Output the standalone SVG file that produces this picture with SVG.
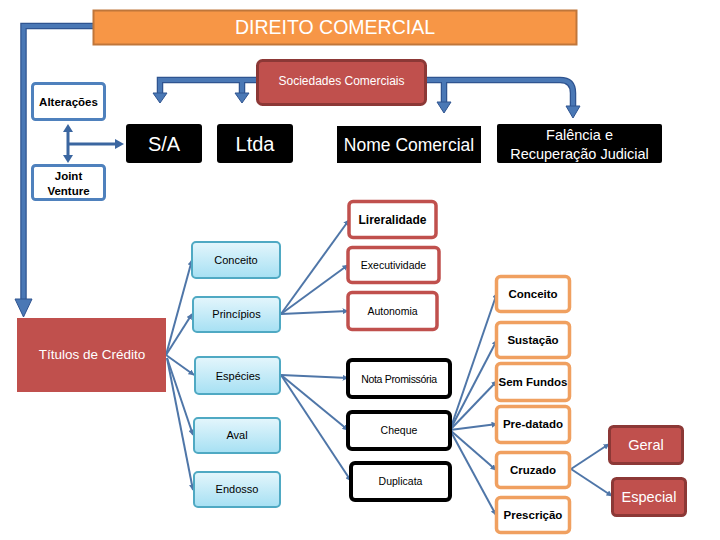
<svg xmlns="http://www.w3.org/2000/svg" width="720" height="540" viewBox="0 0 720 540">
<defs>
<linearGradient id="lb" x1="0" y1="0" x2="0" y2="1">
<stop offset="0" stop-color="#E4F6FC"/>
<stop offset="1" stop-color="#A6E0F3"/>
</linearGradient>
<marker id="ah" viewBox="0 0 10 10" refX="9" refY="5" markerWidth="6" markerHeight="6" markerUnits="userSpaceOnUse" orient="auto">
<path d="M0,0 L10,5 L0,10 z" fill="#4F76A8"/>
</marker>
</defs>
<style>
text{font-family:"Liberation Sans",Arial,sans-serif;text-anchor:middle}
.w{fill:#ffffff}
.k{fill:#000000}
.b{font-weight:bold}
.bl rect{fill:url(#lb);stroke:#4FA9C3;stroke-width:2}
.ro rect{fill:#ffffff;stroke:#C0504D;stroke-width:3.5}
.ko rect{fill:#ffffff;stroke:#000000;stroke-width:4}
.oo rect{fill:#ffffff;stroke:#F0A060;stroke-width:3.5}
.rf rect{fill:#C0504D;stroke:#8C3836;stroke-width:3}
.blk rect{fill:#000000}
.bx rect{fill:#ffffff;stroke:#4F81BD;stroke-width:3}
.thin{fill:none;stroke:#4F76A8;stroke-width:2;marker-end:url(#ah)}
.thickO{fill:none;stroke:#2F5490;stroke-width:6.5}
.thickI{fill:none;stroke:#4A78B5;stroke-width:4}
.head{fill:#4A78B5;stroke:#2F5490;stroke-width:1}
</style>

<g id="connectors">
<!-- big left arrow -->
<path class="thickO" d="M93,26 H23.5 V300"/>
<path class="thickI" d="M93,26 H23.5 V300"/>
<polygon class="head" points="15,299 32,299 23.5,317"/>
<!-- Sociedades arrows -->
<path class="thickO" d="M257,80 H160 V94 M242,80 V94"/>
<path class="thickI" d="M257,80 H160 V94 M242,80 V94"/>
<polygon class="head" points="153,93 167,93 160,103"/>
<polygon class="head" points="235,93 249,93 242,103"/>
<path class="thickO" d="M426,80 H560 Q573,80 573,93 V107 M444,80 V103"/>
<path class="thickI" d="M426,80 H560 Q573,80 573,93 V107 M444,80 V103"/>
<polygon class="head" points="437,102 451,102 444,113"/>
<polygon class="head" points="566,106 580,106 573,118"/>
<!-- Alterações / Joint Venture -->
<path d="M68,131 V156 M68,144 H116" fill="none" stroke="#3B66A0" stroke-width="3"/>
<polygon points="63,132 73,132 68,124" fill="#3B66A0"/>
<polygon points="63,155 73,155 68,163" fill="#3B66A0"/>
<polygon points="115,139 115,149 124,144" fill="#3B66A0"/>
<!-- Títulos -->
<line class="thin" x1="166" y1="355" x2="192" y2="260"/>
<line class="thin" x1="166" y1="355" x2="192" y2="314"/>
<line class="thin" x1="166" y1="355" x2="194" y2="375"/>
<line class="thin" x1="167" y1="358" x2="193" y2="435"/>
<line class="thin" x1="167" y1="358" x2="193" y2="490"/>
<!-- Princípios -->
<line class="thin" x1="281" y1="314" x2="349" y2="220"/>
<line class="thin" x1="281" y1="314" x2="348" y2="265"/>
<line class="thin" x1="281" y1="314" x2="348" y2="311"/>
<!-- Espécies -->
<line class="thin" x1="281" y1="375" x2="348" y2="378"/>
<line class="thin" x1="281" y1="375" x2="348" y2="430"/>
<line class="thin" x1="281" y1="375" x2="351" y2="481"/>
<!-- Cheque -->
<line class="thin" x1="450" y1="430" x2="497" y2="293"/>
<line class="thin" x1="450" y1="430" x2="497" y2="340"/>
<line class="thin" x1="450" y1="430" x2="497" y2="381"/>
<line class="thin" x1="450" y1="430" x2="497" y2="424"/>
<line class="thin" x1="450" y1="430" x2="496" y2="470"/>
<line class="thin" x1="450" y1="430" x2="496" y2="515"/>
<!-- Cruzado -->
<line class="thin" x1="571" y1="469" x2="609" y2="444"/>
<line class="thin" x1="571" y1="469" x2="612" y2="496"/>
</g>

<g id="direito">
<rect x="93.5" y="10.5" width="483" height="34" fill="#F79646" stroke="#C0763A" stroke-width="2"/>
<text x="335" y="34" class="w" font-size="19.5">DIREITO COMERCIAL</text>
</g>
<g id="sociedades" class="rf">
<rect x="257.5" y="60.5" width="168" height="44" rx="5"/>
<text x="341.5" y="85" class="w" font-size="12">Sociedades Comerciais</text>
</g>
<g id="alteracoes" class="bx">
<rect x="32.5" y="83.5" width="72" height="36" rx="3"/>
<text x="68.5" y="106" class="k b" font-size="11.5">Alterações</text>
</g>
<g id="joint" class="bx">
<rect x="32.5" y="165.5" width="72" height="34" rx="3"/>
<text x="68.5" y="180" class="k b" font-size="11.5">Joint</text>
<text x="68.5" y="195" class="k b" font-size="11.5">Venture</text>
</g>
<g id="sa" class="blk">
<rect x="126" y="124" width="76" height="39" rx="3"/>
<text x="164" y="151" class="w" font-size="20">S/A</text>
</g>
<g id="ltda" class="blk">
<rect x="217" y="124" width="76" height="39" rx="3"/>
<text x="255" y="151" class="w" font-size="20">Ltda</text>
</g>
<g id="nome" class="blk">
<rect x="337" y="126" width="144" height="37"/>
<text x="409" y="151" class="w" font-size="17.5">Nome Comercial</text>
</g>
<g id="falencia" class="blk">
<rect x="497" y="124" width="165" height="39" rx="2"/>
<text x="579.5" y="140" class="w" font-size="14.5">Falência e</text>
<text x="579.5" y="159" class="w" font-size="14.5">Recuperação Judicial</text>
</g>

<g id="titulos">
<rect x="17" y="318" width="149" height="74" fill="#C0504D"/>
<text x="92" y="359" class="w" font-size="13.5">Títulos de Crédito</text>
</g>

<g id="conceito1" class="bl">
<rect x="192" y="242" width="88" height="36" rx="4"/>
<text x="236" y="264" class="k" font-size="11">Conceito</text>
</g>
<g id="principios" class="bl">
<rect x="193" y="297" width="87" height="35" rx="4"/>
<text x="236.5" y="318" class="k" font-size="11">Princípios</text>
</g>
<g id="especies" class="bl">
<rect x="195" y="357" width="85" height="37" rx="4"/>
<text x="238" y="380" class="k" font-size="11">Espécies</text>
</g>
<g id="aval" class="bl">
<rect x="194" y="418" width="86" height="35" rx="4"/>
<text x="237" y="439" class="k" font-size="11">Aval</text>
</g>
<g id="endosso" class="bl">
<rect x="194" y="472" width="86" height="35" rx="4"/>
<text x="237" y="493" class="k" font-size="11">Endosso</text>
</g>

<g id="lireralidade" class="ro">
<rect x="349" y="201.5" width="87" height="36" rx="4"/>
<text x="392.5" y="224" class="k b" font-size="12">Lireralidade</text>
</g>
<g id="executividade" class="ro">
<rect x="348" y="247.5" width="91" height="35" rx="4"/>
<text x="393.5" y="269" class="k" font-size="10.5">Executividade</text>
</g>
<g id="autonomia" class="ro">
<rect x="348" y="292.5" width="89" height="37" rx="4"/>
<text x="392.5" y="315" class="k" font-size="10.5">Autonomia</text>
</g>

<g id="nota" class="ko">
<rect x="348" y="360" width="102" height="37" rx="4"/>
<text x="399" y="383" class="k" font-size="10.5" letter-spacing="-0.3">Nota Promissória</text>
</g>
<g id="cheque" class="ko">
<rect x="348" y="412" width="102" height="37" rx="4"/>
<text x="399" y="434" class="k" font-size="10.5">Cheque</text>
</g>
<g id="duplicata" class="ko">
<rect x="351" y="463" width="99" height="37" rx="4"/>
<text x="400.5" y="485" class="k" font-size="10.5">Duplicata</text>
</g>

<g id="conceito2" class="oo">
<rect x="496.5" y="276.5" width="73" height="35" rx="4"/>
<text x="533" y="298" class="k b" font-size="11.5">Conceito</text>
</g>
<g id="sustacao" class="oo">
<rect x="496.5" y="322.5" width="73" height="35" rx="4"/>
<text x="533" y="344" class="k b" font-size="11.5">Sustação</text>
</g>
<g id="semfundos" class="oo">
<rect x="496.5" y="363.5" width="73" height="37" rx="4"/>
<text x="533" y="386" class="k b" font-size="11.5">Sem Fundos</text>
</g>
<g id="predatado" class="oo">
<rect x="496.5" y="406.5" width="73" height="36" rx="4"/>
<text x="533" y="428" class="k b" font-size="11.5">Pre-datado</text>
</g>
<g id="cruzado" class="oo">
<rect x="496.5" y="452.5" width="73" height="35" rx="4"/>
<text x="533" y="474" class="k b" font-size="11.5">Cruzado</text>
</g>
<g id="prescricao" class="oo">
<rect x="496.5" y="497.5" width="73" height="35" rx="4"/>
<text x="533" y="519" class="k b" font-size="11.5">Prescrição</text>
</g>

<g id="geral" class="rf">
<rect x="609.5" y="426.5" width="73" height="37" rx="4"/>
<text x="646" y="450" class="w" font-size="14.5">Geral</text>
</g>
<g id="especial" class="rf">
<rect x="612.5" y="478.5" width="73" height="37" rx="4"/>
<text x="649" y="502" class="w" font-size="14.5">Especial</text>
</g>
</svg>
